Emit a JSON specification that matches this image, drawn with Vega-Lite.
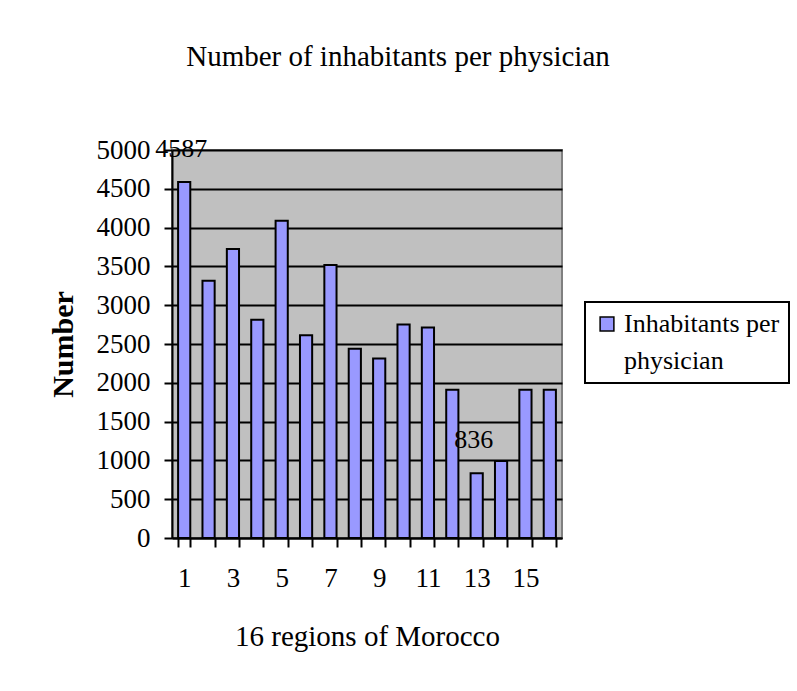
{
  "$schema": "https://vega.github.io/schema/vega-lite/v6.json",
  "width": 390,
  "height": 388,
  "autosize": {"type": "none"},
  "padding": {"left": 172, "top": 150, "right": 235, "bottom": 153},
  "background": "white",
  "title": {
    "text": "Number of inhabitants per physician",
    "font": "Liberation Serif",
    "fontSize": 29,
    "fontWeight": "normal",
    "color": "black",
    "anchor": "middle",
    "dx": 31,
    "offset": 64
  },
  "data": {
    "values": [
      {"region": 1, "value": 4587, "series": "Inhabitants per physician"},
      {"region": 2, "value": 3315, "series": "Inhabitants per physician"},
      {"region": 3, "value": 3723, "series": "Inhabitants per physician"},
      {"region": 4, "value": 2812, "series": "Inhabitants per physician"},
      {"region": 5, "value": 4089, "series": "Inhabitants per physician"},
      {"region": 6, "value": 2614, "series": "Inhabitants per physician"},
      {"region": 7, "value": 3517, "series": "Inhabitants per physician"},
      {"region": 8, "value": 2438, "series": "Inhabitants per physician"},
      {"region": 9, "value": 2313, "series": "Inhabitants per physician"},
      {"region": 10, "value": 2751, "series": "Inhabitants per physician"},
      {"region": 11, "value": 2713, "series": "Inhabitants per physician"},
      {"region": 12, "value": 1909, "series": "Inhabitants per physician"},
      {"region": 13, "value": 836, "series": "Inhabitants per physician"},
      {"region": 14, "value": 993, "series": "Inhabitants per physician"},
      {"region": 15, "value": 1909, "series": "Inhabitants per physician"},
      {"region": 16, "value": 1909, "series": "Inhabitants per physician"}
    ]
  },
  "encoding": {
    "x": {
      "field": "region",
      "type": "ordinal",
      "scale": {"paddingInner": 0.5, "paddingOuter": 0.25},
      "axis": {
        "title": "16 regions of Morocco",
        "titleFont": "Liberation Serif",
        "titleFontSize": 29,
        "titleFontWeight": "normal",
        "titleColor": "black",
        "titlePadding": 31,
        "labelFont": "Liberation Serif",
        "labelFontSize": 27,
        "labelColor": "black",
        "labelAngle": 0,
        "labelPadding": 18,
        "labelExpr": "datum.value % 2 == 1 ? datum.label : ''",
        "tickBand": "extent",
        "tickSize": 9,
        "tickColor": "black",
        "tickWidth": 2,
        "domainColor": "black",
        "domainWidth": 2,
        "grid": false
      }
    },
    "y": {
      "field": "value",
      "type": "quantitative",
      "scale": {"domain": [0, 5000]},
      "axis": {
        "title": "Number",
        "titleFont": "Liberation Serif",
        "titleFontSize": 30,
        "titleFontWeight": "bold",
        "titleColor": "black",
        "titlePadding": 18,
        "values": [0, 500, 1000, 1500, 2000, 2500, 3000, 3500, 4000, 4500, 5000],
        "format": "d",
        "labelFont": "Liberation Serif",
        "labelFontSize": 27,
        "labelColor": "black",
        "labelPadding": 14,
        "tickSize": 8,
        "tickColor": "black",
        "tickWidth": 2,
        "domainColor": "black",
        "domainWidth": 2,
        "grid": true,
        "gridColor": "black",
        "gridWidth": 2,
        "gridOpacity": 1
      }
    }
  },
  "layer": [
    {
      "mark": {"type": "bar", "stroke": "black", "strokeWidth": 2},
      "encoding": {
        "color": {
          "field": "series",
          "type": "nominal",
          "scale": {"range": ["#9999FF"]},
          "legend": {
            "title": null,
            "orient": "none",
            "legendX": 413,
            "legendY": 152,
            "direction": "vertical",
            "strokeColor": "black",
            "fillColor": "white",
            "padding": 9,
            "symbolType": "square",
            "symbolSize": 190,
            "symbolStrokeColor": "black",
            "symbolStrokeWidth": 1.5,
            "symbolOpacity": 1,
            "labelFont": "Liberation Serif",
            "labelFontSize": 26,
            "labelColor": "black",
            "labelLimit": 400,
            "labelOffset": 4,
            "labelExpr": "['Inhabitants per', 'physician']",
            "encode": {
              "labels": {"update": {"lineHeight": {"value": 37}}}
            }
          }
        }
      }
    },
    {
      "transform": [{"filter": "datum.region == 1 || datum.region == 13"}],
      "mark": {
        "type": "text",
        "font": "Liberation Serif",
        "fontSize": 26,
        "color": "black",
        "baseline": "middle",
        "dx": -3,
        "dy": -33
      },
      "encoding": {
        "text": {"field": "value", "type": "quantitative"}
      }
    }
  ],
  "config": {
    "view": {"stroke": "#808080", "strokeWidth": 2, "fill": "#C0C0C0"},
    "legend": {"strokeWidth": 2}
  }
}
